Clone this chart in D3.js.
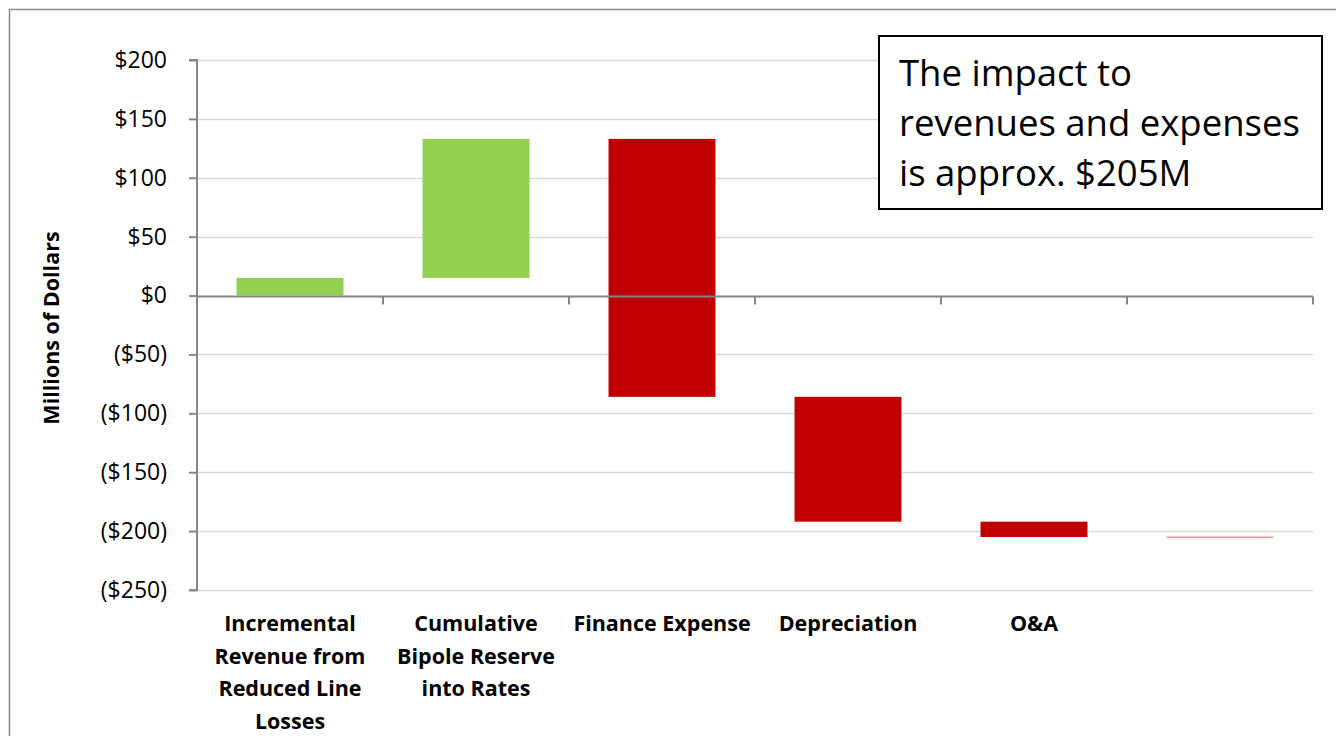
<!DOCTYPE html>
<html>
<head>
<meta charset="utf-8">
<script src="https://cdn.jsdelivr.net/npm/d3@7"></script>
<style>
  body { margin: 0; background: #fff; }
  svg { display: block; }
  .tick text { font-family: "Open Sans", sans-serif; }
</style>
</head>
<body>
<div id="chart"></div>
<script>
// category labels, already broken into lines like the original
var labelLines = [
  ["Incremental", "Revenue from", "Reduced Line", "Losses"],
  ["Cumulative", "Bipole Reserve", "into Rates"],
  ["Finance Expense"],
  ["Depreciation"],
  ["O&A"],
  [""]
];
// change per step, millions of dollars
var deltas = [15, 118, -219, -106, -13];
var barColors = ["#92d050", "#92d050", "#c00000", "#c00000", "#c00000"];
var yTicks = [200, 150, 100, 50, 0, -50, -100, -150, -200, -250];
var boxLines = ["The impact to", "revenues and expenses", "is approx. $205M"];

var svgWidth = 1336, svgHeight = 736;
var plot = { left: 197, right: 1313, top: 60, bottom: 590 };

var svg = d3.select("#chart").append("svg")
  .attr("width", svgWidth)
  .attr("height", svgHeight);

// outer chart border
svg.append("rect")
  .attr("x", 9.5).attr("y", 9.5)
  .attr("width", 1400).attr("height", 900)
  .attr("fill", "none")
  .attr("stroke", "#878787")
  .attr("stroke-width", 1.5);

var x = d3.scaleBand()
  .domain(d3.range(labelLines.length))
  .range([plot.left, plot.right])
  .padding(0);

var y = d3.scaleLinear()
  .domain([-250, 200])
  .range([plot.bottom, plot.top]);

// gridlines
svg.append("g").selectAll("line")
  .data(yTicks)
  .enter().append("line")
  .attr("x1", plot.left).attr("x2", plot.right)
  .attr("y1", d => Math.round(y(d)) + 0.5)
  .attr("y2", d => Math.round(y(d)) + 0.5)
  .attr("stroke", "#d9d9d9")
  .attr("stroke-width", 1.5);

// waterfall running totals
var running = [0];
deltas.forEach(function(d, i) { running.push(running[i] + d); });
var bars = deltas.map(function(d, i) {
  return { i: i, lo: Math.min(running[i], running[i + 1]), hi: Math.max(running[i], running[i + 1]), color: barColors[i] };
});

var barW = x.bandwidth() * 0.575;

svg.append("g").selectAll("rect")
  .data(bars)
  .enter().append("rect")
  .attr("x", d => x(d.i) + (x.bandwidth() - barW) / 2)
  .attr("y", d => y(d.hi))
  .attr("width", barW)
  .attr("height", d => y(d.lo) - y(d.hi))
  .attr("fill", d => d.color);

// total marker in the last slot (drawn as a thin line)
var total = running[running.length - 1];
svg.append("rect")
  .attr("x", x(5) + (x.bandwidth() - barW) / 2)
  .attr("y", y(total) - 0.5)
  .attr("width", barW)
  .attr("height", 1.5)
  .attr("fill", "#f19a9a");

// y axis
var yAxis = d3.axisLeft(y)
  .tickValues(yTicks)
  .tickSize(8)
  .tickPadding(22)
  .tickFormat(d => d < 0 ? "($" + Math.abs(d) + ")" : "$" + d);

var gy = svg.append("g")
  .attr("transform", `translate(${plot.left},0)`)
  .call(yAxis);
gy.select(".domain").attr("stroke", "#868686").attr("stroke-width", 2).attr("d", `M-8,${plot.top}H0V${plot.bottom}H-8`);
gy.selectAll(".tick line").attr("stroke", "#868686").attr("stroke-width", 2);
gy.selectAll(".tick text").attr("font-size", 23).attr("fill", "#000");

// x axis at zero with ticks on slot boundaries
var bounds = d3.range(labelLines.length + 1).map(i => plot.left + i * x.step());
var y0 = Math.round(y(0)) + 0.5;
svg.append("line")
  .attr("x1", plot.left).attr("x2", plot.right)
  .attr("y1", y0).attr("y2", y0)
  .attr("stroke", "#868686").attr("stroke-width", 2);
svg.append("g").selectAll("line")
  .data(bounds.slice(1))
  .enter().append("line")
  .attr("x1", d => d).attr("x2", d => d)
  .attr("y1", y0).attr("y2", y0 + 8)
  .attr("stroke", "#868686").attr("stroke-width", 2);

// category labels
var labels = svg.append("g").selectAll("text")
  .data(labelLines)
  .enter().append("text")
  .attr("text-anchor", "middle")
  .attr("font-family", "'Open Sans', sans-serif")
  .attr("font-weight", "bold")
  .attr("font-size", 21.5)
  .attr("fill", "#000");
labels.each(function(lines, i) {
  var t = d3.select(this);
  lines.forEach(function(line, k) {
    t.append("tspan")
      .attr("x", x(i) + x.bandwidth() / 2)
      .attr("y", 631 + k * 32.5)
      .text(line);
  });
});

// y axis title
svg.append("text")
  .attr("transform", "translate(59,328) rotate(-90)")
  .attr("text-anchor", "middle")
  .attr("font-family", "'Open Sans', sans-serif")
  .attr("font-weight", "bold")
  .attr("font-size", 21.5)
  .text("Millions of Dollars");

// annotation box
svg.append("rect")
  .attr("x", 879).attr("y", 36)
  .attr("width", 443).attr("height", 173)
  .attr("fill", "#fff")
  .attr("stroke", "#000")
  .attr("stroke-width", 2);
svg.append("g").selectAll("text")
  .data(boxLines)
  .enter().append("text")
  .attr("x", 899)
  .attr("y", (d, i) => 86 + i * 50)
  .attr("font-family", "'Open Sans', sans-serif")
  .attr("font-size", 36.5)
  .attr("fill", "#000")
  .text(d => d);
</script>
</body>
</html>
